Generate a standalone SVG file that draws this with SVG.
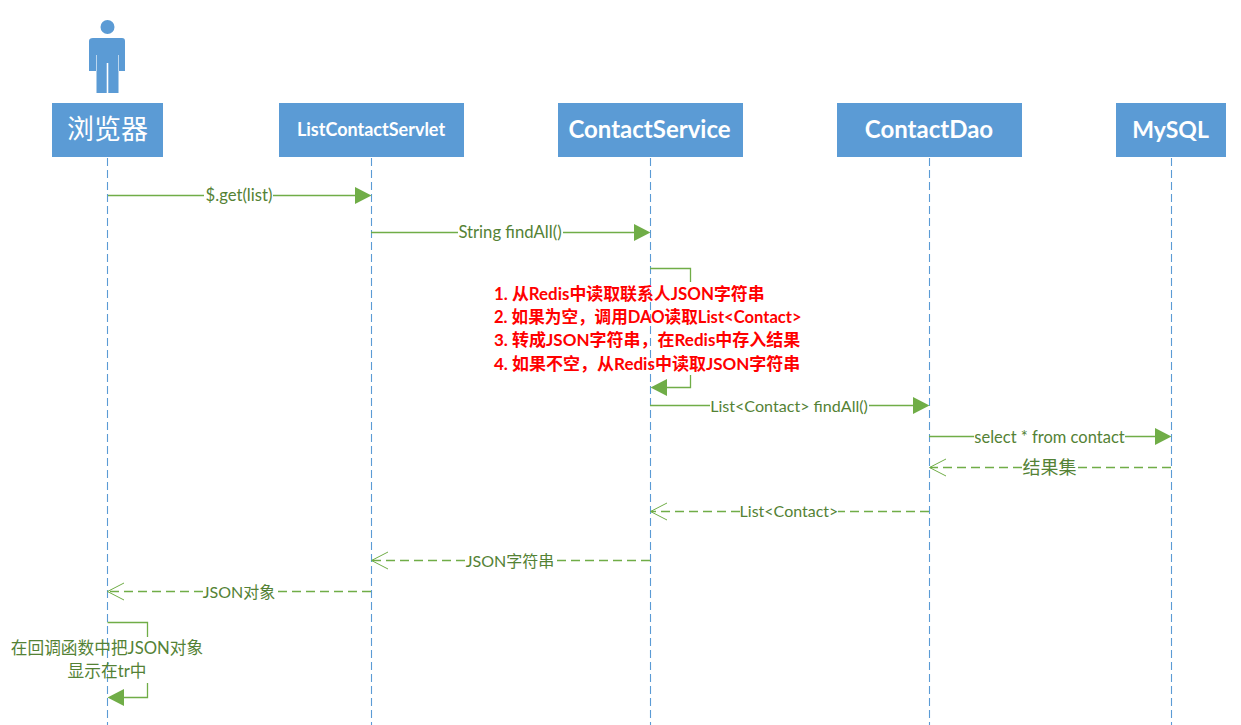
<svg xmlns="http://www.w3.org/2000/svg" width="1241" height="725" viewBox="0 0 1241 725">
<style>
text{font-family:"Lato","Noto Sans CJK SC",sans-serif}
.box{fill:#5b9bd5}
.name{fill:#fff;font-weight:700;text-anchor:middle;dominant-baseline:central}
.life{stroke:#5b9bd5;stroke-width:1.1;stroke-dasharray:8 4;fill:none}
.msg{stroke:#70ad47;stroke-width:1.3;fill:none}
.ret{stroke:#70ad47;stroke-width:1.3;fill:none;stroke-dasharray:9 5}
.open{stroke:#70ad47;stroke-width:1;fill:none}
.head{fill:#70ad47}
.lab{fill:#548235;font-size:16.700px;text-anchor:middle;dominant-baseline:central}
.note{fill:#f00;font-size:16.900px;font-weight:700}
</style>
<rect width="1241" height="725" fill="#fff"/>
<g id="lifelines">
<path class="life" d="M107.500 158V725"/><path class="life" d="M371.500 158V725"/><path class="life" d="M650.500 158V725"/><path class="life" d="M929.500 158V725"/><path class="life" d="M1171.500 158V725"/>
</g>
<g id="actor" fill="#5b9bd5">
<circle cx="107.500" cy="27" r="7"/>
<path d="M93 38H122Q125 38 125 41V71H118.500V93H108.300V63H106.700V93H96.500V71H89V41Q89 38 93 38Z"/>
<path d="M96.500 55V71M118.500 55V71" stroke="#d6e6f5" stroke-width="0.800" fill="none"/>
</g>
<g id="node-browser"><rect class="box" x="52" y="103" width="111" height="54"/><text class="name" x="107.500" y="128" font-size="27" style="font-weight:400">浏览器</text></g>
<g id="node-servlet"><rect class="box" x="279" y="103" width="185" height="54"/><text class="name" x="371" y="128.500" font-size="18">ListContactServlet</text></g>
<g id="node-service"><rect class="box" x="558" y="103" width="185" height="54"/><text class="name" x="649.500" y="128.500" font-size="24">ContactService</text></g>
<g id="node-dao"><rect class="box" x="837" y="103" width="185" height="54"/><text class="name" x="929" y="128.500" font-size="24">ContactDao</text></g>
<g id="node-mysql"><rect class="box" x="1116" y="103" width="110" height="54"/><text class="name" x="1170.500" y="128.500" font-size="23">MySQL</text></g>
<g id="connectors">
<path class="msg" d="M108 195.500H204M273 195.500H356"/><path class="head" d="M371.500 195.500L355 187V204Z"/>
<path class="msg" d="M371 232.500H458M563 232.500H635"/><path class="head" d="M650.500 232.500L634 224V241Z"/>
<path class="msg" d="M650 268.500H690.500V282M690.500 375V387.500H665"/><path class="head" d="M650.500 387.500L667 379V396Z"/>
<path class="msg" d="M650 405.500H710M869 405.500H914"/><path class="head" d="M929.500 405.500L913 397V414Z"/>
<path class="msg" d="M929 436.500H974M1125 436.500H1156"/><path class="head" d="M1171.500 436.500L1155 428V445Z"/>
<path class="ret" d="M1171 467.500H1077M1022 467.500H930"/><path class="open" d="M946 459L929.500 467.500L946 476"/>
<path class="ret" d="M929 511.500H838M740 511.500H651"/><path class="open" d="M667 503L650.500 511.500L667 520"/>
<path class="ret" d="M650 560.500H556M465 560.500H372"/><path class="open" d="M388 552L371.500 560.500L388 569"/>
<path class="ret" d="M371 591.500H275M203 591.500H108"/><path class="open" d="M124 583L107.500 591.500L124 600"/>
<path class="msg" d="M107.500 622.500H147.500V637M147.500 683V697.500H122"/><path class="head" d="M107.500 697.500L124 689V706Z"/>
</g>
<g id="labels">
<text class="lab" x="239" y="194.500">$.get(list)</text>
<text class="lab" x="510" y="231.500">String findAll()</text>
<text class="lab" x="789" y="405.500" style="font-size:16.100px">List&lt;Contact&gt; findAll()</text>
<text class="lab" x="1049.500" y="436.500" style="font-size:16.500px">select * from contact</text>
<text class="lab" x="1049.500" y="467" style="font-size:18px">结果集</text>
<text class="lab" x="789" y="510.500" style="font-size:16px">List&lt;Contact&gt;</text>
<text class="lab" x="510" y="560.500" style="font-size:16px">JSON字符串</text>
<text class="lab" x="239" y="591.500" style="font-size:16px">JSON对象</text>
<text class="lab" x="107" y="648">在回调函数中把JSON对象</text>
<text class="lab" x="107" y="671">显示在tr中</text>
</g>
<g id="note">
<text class="note" x="494" y="300">1. 从Redis中读取联系人JSON字符串</text>
<text class="note" x="494" y="323" style="font-size:16.600px">2. 如果为空，调用DAO读取List&lt;Contact&gt;</text>
<text class="note" x="494" y="346" style="font-size:17px">3. 转成JSON字符串，在Redis中存入结果</text>
<text class="note" x="494" y="370" style="font-size:17px">4. 如果不空，从Redis中读取JSON字符串</text>
</g>
</svg>
